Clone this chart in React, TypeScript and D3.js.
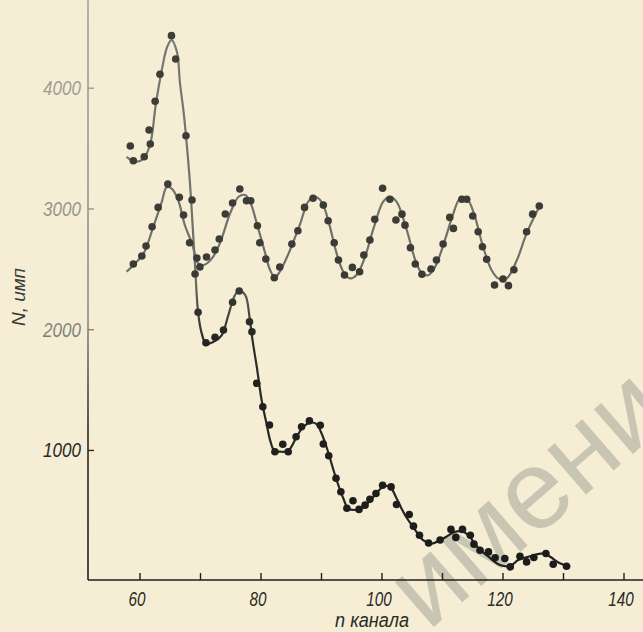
import React from "react";
import * as d3 from "d3";

// channel numbers and counts
const decayDotChannels = [58.4, 58.9, 60.7, 61.5, 61.7, 62.5, 63.3, 65.2, 65.9, 67.6, 68.6, 69.1, 69.6, 70.9, 72.4, 73.8, 75.3, 76.4, 78.1, 78.5, 79.3, 80.3, 81.4, 82.3, 83.6, 84.5, 85.8, 86.7, 88.0, 89.8, 90.3, 91.2, 92.4, 93.2, 94.2, 95.2, 96.2, 97.2, 98.0, 99.0, 100.1, 101.5, 102.4, 104.5, 105.2, 106.2, 107.7, 109.6, 111.4, 112.2, 113.3, 114.6, 115.2, 116.2, 117.6, 118.7, 120.3, 121.2, 122.8, 123.9, 125.1, 127.1, 128.3, 130.5];
const decayDotCounts = [3521, 3399, 3432, 3654, 3538, 3891, 4115, 4435, 4242, 3606, 3074, 2461, 2144, 1892, 1937, 1998, 2227, 2320, 2066, 1983, 1556, 1362, 1211, 989, 1051, 989, 1114, 1196, 1245, 1209, 1053, 956, 770, 658, 521, 584, 512, 547, 596, 643, 712, 698, 552, 469, 373, 298, 234, 258, 346, 280, 346, 298, 224, 174, 160, 112, 105, 36, 124, 77, 113, 146, 58, 41];

const decayCurveChannels = [57.8, 59.2, 60.6, 61.7, 62.6, 63.6, 64.5, 65.2, 66.1, 66.6, 67.2, 67.6, 68.2, 68.7, 69.1, 69.6, 70.2, 70.9, 72.1, 73.5, 74.6, 75.7, 76.4, 77.4, 78.1, 78.6, 79.3, 80.1, 80.9, 81.5, 82.2, 83.1, 84.5, 85.9, 87.0, 88.1, 89.2, 90.0, 90.9, 92.4, 93.6, 94.4, 95.5, 96.9, 98.6, 100.2, 101.3, 102.4, 103.8, 105.5, 106.8, 108.2, 110.1, 112.1, 113.4, 114.5, 115.7, 117.6, 119.5, 121.2, 122.5, 124.5, 126.7, 127.8, 129.4, 131.1];
const decayCurveCounts = [3432, 3391, 3418, 3540, 3861, 4150, 4343, 4398, 4302, 4046, 3805, 3606, 3254, 2864, 2530, 2146, 1970, 1885, 1898, 1954, 2121, 2287, 2321, 2287, 2107, 1914, 1693, 1418, 1225, 1086, 998, 990, 998, 1114, 1196, 1230, 1219, 1142, 1018, 770, 604, 521, 507, 529, 617, 700, 700, 604, 465, 340, 257, 229, 270, 327, 327, 285, 203, 120, 51, 43, 92, 124, 148, 120, 65, 36];

const waveDotChannels = [58.9, 60.3, 61.0, 62.0, 63.0, 64.6, 66.5, 67.2, 68.2, 69.4, 69.9, 71.0, 72.4, 73.1, 74.1, 75.3, 76.5, 77.6, 78.3, 79.4, 79.8, 80.8, 82.2, 83.1, 85.1, 86.1, 87.2, 88.6, 90.3, 91.1, 92.1, 92.8, 93.8, 95.1, 96.3, 97.0, 98.0, 98.8, 100.1, 101.3, 102.3, 103.3, 103.8, 104.7, 105.5, 106.6, 108.1, 109.0, 110.1, 111.2, 111.8, 113.2, 114.0, 115.0, 115.9, 116.6, 117.3, 118.6, 120.0, 120.9, 121.8, 123.9, 124.9, 126.0];
const waveDotCounts = [2544, 2610, 2693, 2853, 3013, 3206, 3096, 2950, 2720, 2594, 2519, 2602, 2660, 2751, 2958, 3049, 3165, 3068, 3068, 2861, 2720, 2585, 2430, 2519, 2709, 2820, 3013, 3088, 3032, 2902, 2720, 2577, 2453, 2516, 2480, 2618, 2743, 2914, 3171, 3080, 2908, 2957, 2866, 2679, 2544, 2459, 2503, 2577, 2710, 2930, 2839, 3080, 3080, 2942, 2811, 2687, 2583, 2370, 2420, 2365, 2496, 2811, 2957, 3024];

const waveCurveChannels = [57.8, 59.2, 60.6, 62.2, 63.6, 64.4, 65.2, 66.3, 67.4, 68.6, 69.6, 70.5, 71.9, 73.2, 74.9, 76.3, 77.4, 78.2, 79.3, 80.7, 81.5, 82.3, 83.1, 84.8, 86.5, 87.8, 88.9, 90.0, 91.1, 92.5, 93.6, 94.7, 95.8, 97.2, 98.6, 100.2, 101.3, 102.4, 104.1, 105.5, 106.6, 107.7, 108.8, 110.4, 111.8, 112.9, 114.0, 115.1, 116.7, 118.1, 119.2, 120.6, 122.3, 123.9, 126.0];
const waveCurveCounts = [2480, 2550, 2632, 2853, 3059, 3180, 3170, 3074, 2867, 2715, 2550, 2536, 2591, 2715, 2964, 3101, 3115, 3060, 2881, 2632, 2494, 2434, 2480, 2660, 2881, 3060, 3101, 3060, 2908, 2632, 2480, 2425, 2453, 2604, 2839, 3060, 3101, 3060, 2825, 2577, 2467, 2453, 2522, 2743, 2964, 3088, 3088, 2977, 2687, 2494, 2425, 2425, 2577, 2798, 3018];

const xTicks = [60, 70, 80, 90, 100, 110, 120, 130, 140];
const xTickLabels = ["60", "", "80", "", "100", "", "120", "", "140"];
const yTicks = [1000, 2000, 3000, 4000];
const yTickLabels = ["1000", "2000", "3000", "4000"];

const W = 643, H = 632;

export default function App() {
  const x = d3.scaleLinear().domain([60, 140]).range([140, 624]);
  const y = d3.scaleLinear().domain([0, 4000]).range([571.2, 88.2]);
  const axisX = 88;
  const axisY = 580;

  const zip = (a: number[], b: number[]) => a.map((v, i) => [v, b[i]] as [number, number]);
  const line = d3
    .line<[number, number]>()
    .x(d => x(d[0]))
    .y(d => y(d[1]))
    .curve(d3.curveCatmullRom.alpha(0.5));

  const font = "'Liberation Sans', Arial, sans-serif";

  return (
    <svg width={W} height={H} style={{ position: "absolute", left: 0, top: 0 }}>
      <defs>
        <linearGradient id="ink" gradientUnits="userSpaceOnUse" x1="0" y1="0" x2="0" y2={H}>
          <stop offset="0" stopColor="#7a7a72" />
          <stop offset="0.44" stopColor="#6f6f68" />
          <stop offset="0.53" stopColor="#2e2e2a" />
          <stop offset="1" stopColor="#1c1c1a" />
        </linearGradient>
        <linearGradient id="dotInk" gradientUnits="userSpaceOnUse" x1="0" y1="0" x2="0" y2={H}>
          <stop offset="0" stopColor="#403f3a" />
          <stop offset="0.45" stopColor="#3b3b36" />
          <stop offset="0.55" stopColor="#222220" />
          <stop offset="1" stopColor="#1a1a18" />
        </linearGradient>
        <linearGradient id="axisInk" gradientUnits="userSpaceOnUse" x1="0" y1="0" x2="0" y2={H}>
          <stop offset="0" stopColor="#a3a29b" />
          <stop offset="0.5" stopColor="#8e8d86" />
          <stop offset="0.68" stopColor="#2a2a27" />
          <stop offset="1" stopColor="#1c1c1a" />
        </linearGradient>
      </defs>

      <rect width={W} height={H} fill="#f5eed5" />

      {/* library stamp showing through the page */}
      <text
        transform="translate(428,632) rotate(-41)"
        fontFamily={font}
        fontSize={112}
        fill="#c8c5b3"
      >
        имени
      </text>

      {/* axes */}
      <line x1={axisX} y1={0} x2={axisX} y2={axisY} stroke="url(#axisInk)" strokeWidth={1.6} />
      <line x1={axisX} y1={axisY} x2={W} y2={axisY} stroke="#1e1e1b" strokeWidth={1.6} />

      {yTicks.map((t, i) => (
        <g key={t}>
          <line x1={axisX} x2={axisX + 6} y1={y(t)} y2={y(t)} stroke="url(#axisInk)" strokeWidth={1.4} />
          <text
            x={axisX - 7}
            y={y(t) + 7}
            textAnchor="end"
            fontFamily={font}
            fontStyle="italic"
            fontSize={20}
            textLength={38}
            lengthAdjust="spacingAndGlyphs"
            fill="url(#axisInk)"
          >
            {yTickLabels[i]}
          </text>
        </g>
      ))}

      {xTicks.map((t, i) => (
        <g key={t}>
          <line x1={x(t)} x2={x(t)} y1={axisY} y2={axisY - 7} stroke="#1e1e1b" strokeWidth={1.4} />
          {xTickLabels[i] && (
            <text
              x={x(t) - 3}
              y={606}
              textAnchor="middle"
              fontFamily={font}
              fontStyle="italic"
              fontSize={21}
              textLength={xTickLabels[i].length * 8.5}
              lengthAdjust="spacingAndGlyphs"
              fill="#2a2a26"
            >
              {xTickLabels[i]}
            </text>
          )}
        </g>
      ))}

      <text
        x={372}
        y={627}
        textAnchor="middle"
        fontFamily={font}
        fontStyle="italic"
        fontSize={20}
        textLength={74}
        lengthAdjust="spacingAndGlyphs"
        fill="#2a2a26"
      >
        n канала
      </text>
      <text
        transform="translate(25,297) rotate(-90)"
        textAnchor="middle"
        fontFamily={font}
        fontStyle="italic"
        fontSize={18}
        textLength={58}
        lengthAdjust="spacingAndGlyphs"
        fill="#3a3a35"
      >
        N, имп
      </text>

      {/* fitted curves */}
      <path d={line(zip(waveCurveChannels, waveCurveCounts)) || ""} fill="none" stroke="url(#ink)" strokeWidth={2.2} />
      <path d={line(zip(decayCurveChannels, decayCurveCounts)) || ""} fill="none" stroke="url(#ink)" strokeWidth={2.2} />

      {/* measured points */}
      {zip(waveDotChannels, waveDotCounts).map((d, i) => (
        <circle key={"w" + i} cx={x(d[0])} cy={y(d[1])} r={3.8} fill="url(#dotInk)" />
      ))}
      {zip(decayDotChannels, decayDotCounts).map((d, i) => (
        <circle key={"d" + i} cx={x(d[0])} cy={y(d[1])} r={3.8} fill="url(#dotInk)" />
      ))}
    </svg>
  );
}
